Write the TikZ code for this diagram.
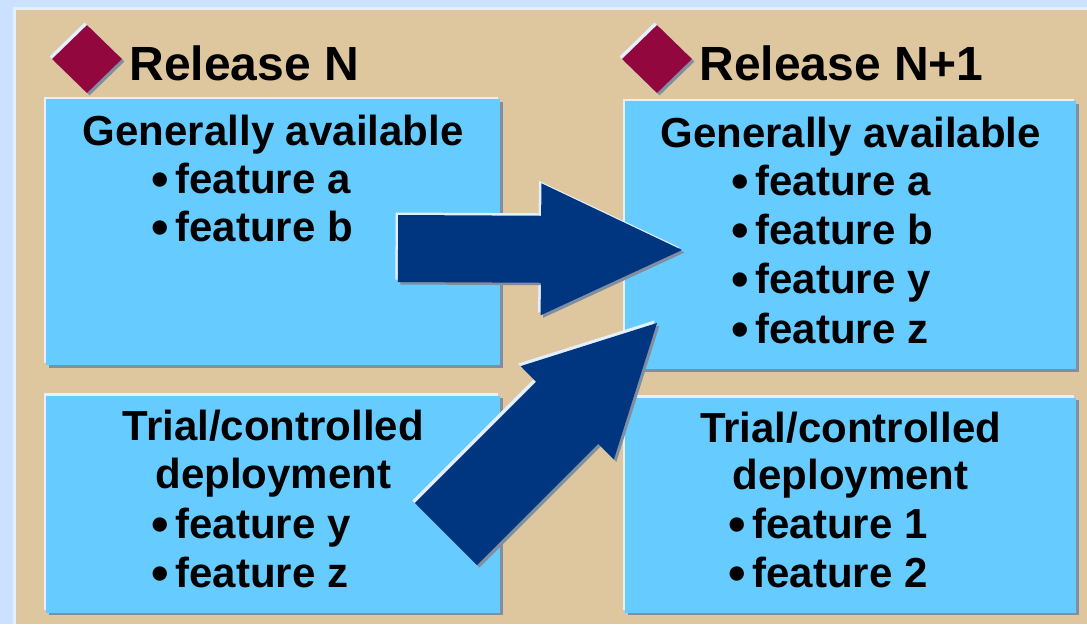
\documentclass[tikz,border=0pt]{standalone}
\usepackage{fontspec}
\setmainfont{Liberation Sans}
\usetikzlibrary{shapes.geometric,positioning,calc,shadows}

\definecolor{lavender}{RGB}{204,224,255}
\definecolor{sandbg}{RGB}{222,198,158}
\definecolor{boxblue}{RGB}{102,204,255}
\definecolor{arrowblue}{RGB}{0,54,128}
\definecolor{wine}{RGB}{146,8,62}
\definecolor{shadegrey}{RGB}{128,142,160}
\definecolor{hilite}{RGB}{228,240,255}

\tikzstyle{edges} = [general shadow={fill=hilite, shadow xshift=-2.5pt, shadow yshift=2.5pt}, general shadow={fill=shadegrey, shadow xshift=2.5pt, shadow yshift=-2.5pt}]
\tikzstyle{panel} = [rectangle, fill=boxblue, edges, inner sep=0pt]
\tikzstyle{gem} = [diamond, fill=wine, edges, inner sep=0pt, minimum width=70pt, minimum height=68pt]
\tikzstyle{title} = [inner sep=0pt, font=\fontsize{48}{56}\selectfont\bfseries]
\tikzstyle{boxhead} = [inner sep=0pt, anchor=base, font=\fontsize{42}{48}\selectfont\bfseries]
\tikzstyle{item} = [inner sep=0pt, anchor=base west, font=\fontsize{42}{48}\selectfont\bfseries]
\tikzstyle{bigarrow} = [fill=arrowblue, edges]

\newcommand{\itm}{\makebox[22pt][l]{\hspace*{-2pt}\raisebox{-3pt}[0pt][0pt]{\fontsize{50}{50}\selectfont •}}}
% block arrow: tail, tip, half shaft width, half head width, head length
\newcommand{\blockarrow}[5]{%
  \coordinate (#2base) at ($(#2)!#5pt!(#1)$);
  \fill[bigarrow] ($(#1)!#3pt!90:(#2)$) -- ($(#2base)!#3pt!90:(#2)$) -- ($(#2base)!#4pt!90:(#2)$) -- (#2)
    -- ($(#2base)!#4pt!-90:(#2)$) -- ($(#2base)!#3pt!-90:(#2)$) -- ($(#1)!#3pt!-90:(#2)$) -- cycle;
}

\begin{document}
\begin{tikzpicture}[x=1pt, y=-1pt]

\fill[lavender] (0,0) rectangle (1087,624);
\fill[hilite] (13,7) rectangle (1087,624);
\fill[sandbg] (16,10) rectangle (1087,624);
\useasboundingbox (0,0) rectangle (1087,624);

% release headings
\node (dia1) [gem] at (87,59) {};
\node (rel1) [title, right=7pt of dia1, yshift=-4pt] {Release N};
\node (dia2) [gem] at (657,59) {};
\node (rel2) [title, right=7pt of dia2, yshift=-4pt] {Release N+1};

% panels
\node (ga1) [panel, anchor=north west, minimum width=454pt, minimum height=266pt] at (46,99) {};
\node (tc1) [panel, below=30pt of ga1, minimum width=454pt, minimum height=217pt] {};
\node (ga2) [panel, anchor=north west, minimum width=451pt, minimum height=268pt] at (625,101) {};
\node (tc2) [panel, below=28pt of ga2, minimum width=451pt, minimum height=215pt] {};

% panel texts
\node (ga1head) [boxhead] at ($(ga1.north)+(0,46)$) {Generally available};
\foreach \f [count=\i] in {a,b}
  \node (ga1item\i) [item] at ($(ga1.north)+(-120,45.5+48.5*\i)$) {\itm feature \f};

\node (tc1head) [boxhead] at ($(tc1.north)+(0,45)$) {Trial/controlled};
\node (tc1head2) [boxhead] at ($(tc1.north)+(0,93)$) {deployment};
\foreach \f [count=\i] in {y,z}
  \node (tc1item\i) [item] at ($(tc1.north)+(-120,94+49*\i)$) {\itm feature \f};

\node (ga2head) [boxhead] at ($(ga2.north)+(0,46)$) {Generally available};
\foreach \f [count=\i] in {a,b,y,z}
  \node (ga2item\i) [item] at ($(ga2.north)+(-117.5,45+49.3*\i)$) {\itm feature \f};

\node (tc2head) [boxhead] at ($(tc2.north)+(0,45)$) {Trial/controlled};
\node (tc2head2) [boxhead] at ($(tc2.north)+(0,92)$) {deployment};
\foreach \f [count=\i] in {1,2}
  \node (tc2item\i) [item] at ($(tc2.north)+(-120.5,92+49*\i)$) {\itm feature \f};

% arrows into release N+1
\coordinate (a1tail) at (398,248.5);
\coordinate (a1tip) at (682,250);
\coordinate (a2tail) at (446,534);
\coordinate (a2tip) at (657,323);
\blockarrow{a1tail}{a1tip}{33.5}{66}{141}
\blockarrow{a2tail}{a2tip}{44}{66}{127}

\end{tikzpicture}
\end{document}
